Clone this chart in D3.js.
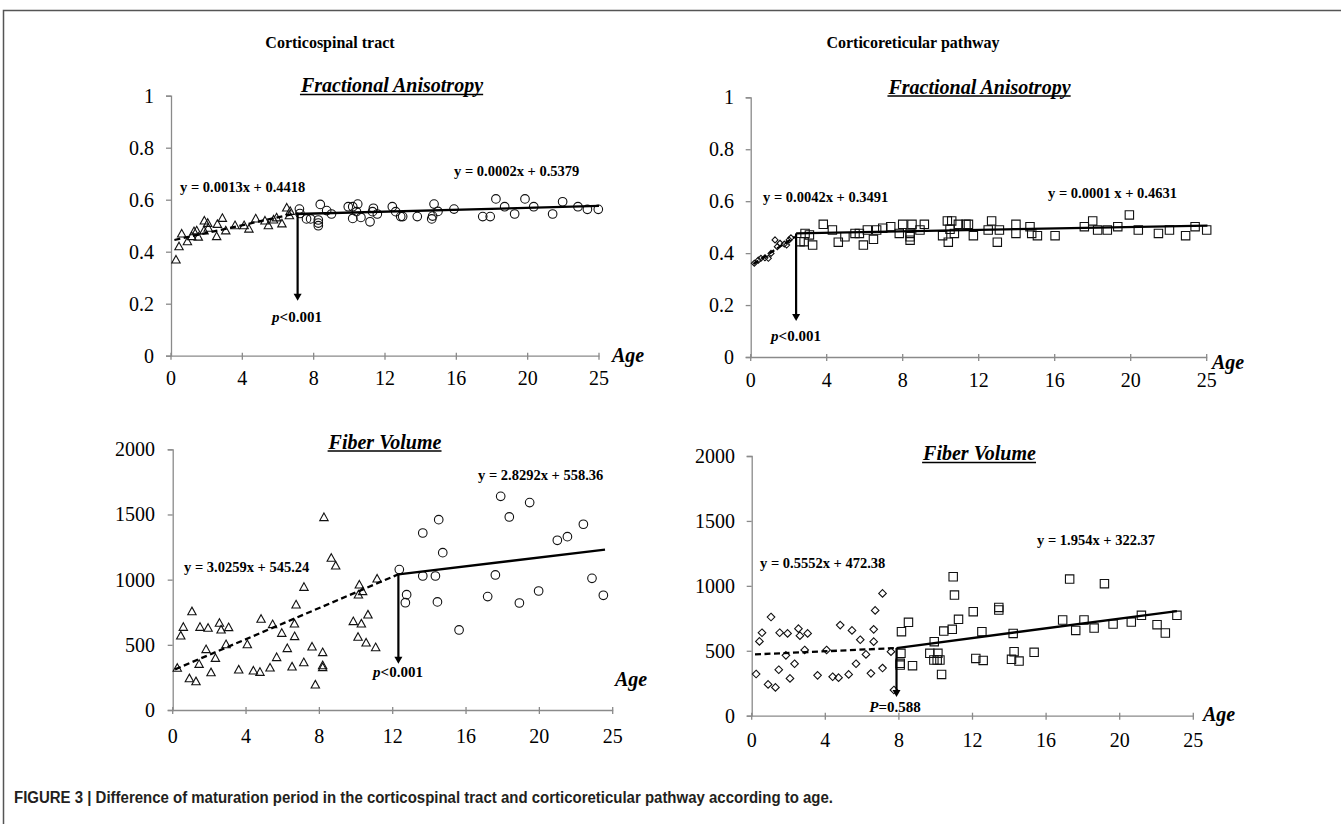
<!DOCTYPE html>
<html><head><meta charset="utf-8">
<script src="https://cdn.jsdelivr.net/npm/d3@7"></script>
<style>body{margin:0;background:#fff}</style>
</head><body><svg id="c" width="1341" height="824"></svg>
<script>
// ---------------- DATA ----------------
const xTickValues = [0, 4, 8, 12, 16, 20, 24];
const xTickLabels = ["0", "4", "8", "12", "16", "20", "25"];
const faTickValues = [0, 0.2, 0.4, 0.6, 0.8, 1];
const faTickLabels = ["0", "0.2", "0.4", "0.6", "0.8", "1"];
const fvTickValues = [0, 500, 1000, 1500, 2000];
const fvTickLabels = ["0", "500", "1000", "1500", "2000"];

const columnTitles = ["Corticospinal tract", "Corticoreticular pathway"];
const panelTitles = ["Fractional Anisotropy", "Fractional Anisotropy", "Fiber Volume", "Fiber Volume"];
const caption = "FIGURE 3 | Difference of maturation period in the corticospinal tract and corticoreticular pathway according to age.";

// Corticospinal tract – FA
const faCstYoung = [[0.28,0.368],[0.45,0.419],[0.6,0.468],[0.92,0.438],[1.16,0.458],[1.29,0.477],[1.44,0.48],[1.53,0.456],[1.87,0.518],[1.85,0.48],[2.06,0.509],[2.09,0.49],[2.56,0.458],[2.6,0.505],[2.88,0.528],[3.07,0.48],[3.59,0.5],[4.1,0.5],[4.37,0.487],[4.75,0.526],[5.27,0.518],[5.46,0.5],[5.75,0.522],[5.92,0.53],[6.22,0.507],[6.49,0.568],[6.68,0.555],[6.64,0.538]];
const faCstOld = [[7.2,0.564],[7.23,0.547],[7.6,0.526],[7.83,0.526],[8.26,0.522],[8.26,0.51],[8.26,0.5],[8.37,0.582],[8.73,0.558],[9.0,0.545],[9.94,0.573],[10.19,0.573],[10.47,0.583],[10.19,0.528],[10.4,0.554],[10.65,0.532],[11.16,0.515],[11.3,0.554],[11.35,0.567],[11.57,0.545],[12.41,0.573],[12.6,0.554],[12.88,0.535],[12.99,0.535],[13.81,0.535],[14.62,0.526],[14.67,0.537],[14.75,0.583],[14.97,0.555],[15.87,0.564],[17.48,0.535],[17.9,0.535],[18.22,0.603],[18.71,0.573],[19.27,0.545],[19.85,0.603],[20.34,0.573],[21.4,0.545],[21.96,0.592],[22.82,0.573],[23.35,0.563],[23.96,0.563]];
const faCstFitYoung = [[0.19,0.445],[6.86,0.545]];
const faCstFitOld = [[7.0,0.545],[24,0.576]];
const faCstArrow = [7.1, 0.545, 0.215];
const faCstEquations = ["y = 0.0013x + 0.4418", "y = 0.0002x + 0.5379"];
const faCstP = "<0.001";

// Corticoreticular pathway – FA
const faCrpYoung = [[0.19,0.361],[0.4,0.373],[0.54,0.38],[0.75,0.382],[0.93,0.38],[1.07,0.399],[1.28,0.451],[1.4,0.425],[1.54,0.438],[1.77,0.435],[1.89,0.431],[2.02,0.451],[2.12,0.459]];
const faCrpOld = [[2.6,0.444],[2.81,0.444],[2.86,0.476],[3.09,0.47],[3.26,0.431],[3.82,0.511],[4.3,0.489],[4.61,0.442],[4.96,0.463],[5.49,0.476],[5.72,0.476],[5.93,0.431],[6.14,0.489],[6.46,0.453],[6.63,0.489],[6.95,0.496],[7.37,0.502],[7.82,0.476],[8.0,0.511],[8.39,0.476],[8.39,0.463],[8.39,0.45],[8.49,0.511],[8.91,0.489],[9.14,0.511],[10.1,0.467],[10.35,0.524],[10.58,0.524],[10.4,0.442],[10.49,0.492],[10.72,0.476],[10.93,0.511],[11.33,0.511],[11.46,0.511],[11.72,0.467],[12.5,0.489],[12.68,0.524],[12.98,0.442],[13.09,0.489],[13.96,0.511],[13.96,0.476],[14.7,0.502],[14.79,0.476],[15.09,0.467],[16.02,0.467],[17.56,0.502],[18.0,0.524],[18.26,0.489],[18.77,0.489],[19.32,0.502],[19.93,0.547],[20.4,0.489],[21.46,0.476],[22.04,0.489],[22.89,0.467],[23.39,0.502],[24.0,0.489]];
const faCrpFitYoung = [[0.14,0.358],[2.33,0.463]];
const faCrpFitOld = [[2.39,0.476],[24.04,0.506]];
const faCrpArrow = [2.39, 0.476, 0.142];
const faCrpEquations = ["y = 0.0042x + 0.3491", "y = 0.0001 x + 0.4631"];
const faCrpP = "<0.001";

// Corticospinal tract – fiber volume
const fvCstYoung = [[0.25,320],[0.44,568],[0.58,634],[0.91,240],[1.05,754],[1.27,217],[1.44,350],[1.49,634],[1.82,463],[1.93,627],[2.09,286],[2.33,396],[2.55,665],[2.64,614],[2.91,501],[3.05,632],[3.6,307],[4.07,501],[4.4,299],[4.76,289],[4.82,696],[5.31,322],[5.45,655],[5.67,402],[5.95,588],[6.25,471],[6.51,330],[6.64,660],[6.65,563],[6.73,806],[7.15,363],[7.16,941],[7.6,483],[7.78,192],[8.18,440],[8.18,340],[8.18,325],[8.25,1476],[8.65,1164],[8.89,1105],[9.85,678],[10.11,558],[10.13,882],[10.18,959],[10.29,660],[10.36,908],[10.55,514],[10.65,729],[11.07,478],[11.15,1005]];
const fvCstOld = [[12.36,1077],[12.76,885],[12.69,823],[13.64,1358],[13.64,1028],[14.33,1028],[14.51,1460],[14.44,829],[14.73,1207],[15.62,614],[17.18,870],[17.6,1036],[17.89,1639],[18.36,1481],[18.91,821],[19.47,1591],[19.96,913],[20.98,1302],[21.53,1330],[22.4,1425],[22.87,1010],[23.49,880]];
const fvCstFitYoung = [[0.13,312],[12.31,1041]];
const fvCstFitOld = [[12.31,1041],[23.58,1230]];
const fvCstArrow = [12.31, 1041, 363];
const fvCstEquations = ["y = 3.0259x + 545.24", "y = 2.8292x + 558.36"];
const fvCstP = "<0.001";

// Corticoreticular pathway – fiber volume
const fvCrpYoung = [[0.24,321],[0.42,572],[0.56,639],[1.05,760],[0.89,241],[1.29,218],[1.47,354],[1.52,639],[1.86,465],[1.95,634],[2.08,287],[2.33,400],[2.54,670],[2.62,616],[2.88,506],[3.04,634],[3.58,311],[4.07,506],[4.4,300],[4.72,293],[4.81,698],[5.27,318],[5.45,657],[5.67,400],[5.9,585],[6.21,472],[6.48,326],[6.63,665],[6.63,570],[6.71,811],[7.11,367],[7.11,942],[7.57,493],[7.73,198]];
const fvCrpOld = [[8.11,480],[8.07,403],[8.07,390],[8.14,647],[8.52,719],[8.74,385],[9.68,480],[9.92,570],[9.9,429],[10.08,429],[10.12,480],[10.23,429],[10.32,318],[10.44,652],[10.9,665],[10.95,1070],[11.02,929],[11.24,742],[12.04,801],[12.18,441],[12.51,647],[12.58,426],[13.43,834],[13.43,814],[14.12,434],[14.21,634],[14.26,493],[14.53,421],[15.35,488],[16.9,737],[17.28,1052],[17.61,657],[18.06,737],[18.61,675],[19.17,1017],[19.64,706],[20.63,721],[21.18,773],[22.03,701],[22.48,637],[23.11,773]];
const fvCrpFitYoung = [[0.18,472],[7.87,521]];
const fvCrpFitOld = [[7.87,521],[23.11,806]];
const fvCrpArrow = [7.87, 521, 151];
const fvCrpEquations = ["y = 0.5552x + 472.38", "y = 1.954x + 322.37"];
const fvCrpP = "=0.588";

// ---------------- LAYOUT ----------------
const serif = "'Liberation Serif','Times New Roman',serif";
const svg = d3.select("#c");

// frame
svg.append("rect").attr("x", 3.5).attr("y", 10.5).attr("width", 1340).attr("height", 900)
  .attr("fill", "none").attr("stroke", "#555").attr("stroke-width", 1.5);

// column headings
[[330, columnTitles[0]], [913, columnTitles[1]]].forEach(([cx, t]) => {
  svg.append("text").attr("x", cx).attr("y", 48).attr("text-anchor", "middle")
    .attr("font-family", serif).attr("font-weight", "bold").attr("font-size", 16).text(t);
});

svg.append("text").attr("x", 14).attr("y", 803)
  .attr("font-family", "'Liberation Sans Narrow','Arial Narrow','Liberation Sans',sans-serif")
  .attr("font-weight", "bold").attr("font-size", 16)
  .attr("textLength", 819).attr("lengthAdjust", "spacingAndGlyphs")
  .attr("fill", "#231f20").text(caption);

const shapes = {
  triangle: "M0,-4.6L4.2,3L-4.2,3Z",
  diamondSmall: "M0,-3L3,0L0,3L-3,0Z",
  diamond: "M0,-3.8L3.8,0L0,3.8L-3.8,0Z",
  square: "M-4.2,-4.2H4.2V4.2H-4.2Z",
};

const panels = [
  { px: [171, 599], py: [355.7, 95.7], yMax: 1, yTicks: faTickValues, yLabels: faTickLabels,
    young: faCstYoung, old: faCstOld, youngShape: "triangle", oldShape: "circle",
    fitY: faCstFitYoung, fitO: faCstFitOld, arrow: faCstArrow, eq: faCstEquations, p: faCstP, pItalic: "p",
    title: panelTitles[0], titlePos: [392, 92], eqPos: [[180, 192], [454, 176]], pPos: [297, 322],
    yLabX: 154, xLabDy: 29, agePos: [612, 362] },
  { px: [750.7, 1206.7], py: [357, 97.3], yMax: 1, yTicks: faTickValues, yLabels: faTickLabels,
    young: faCrpYoung, old: faCrpOld, youngShape: "diamondSmall", oldShape: "square",
    fitY: faCrpFitYoung, fitO: faCrpFitOld, arrow: faCrpArrow, eq: faCrpEquations, p: faCrpP, pItalic: "p",
    title: panelTitles[1], titlePos: [979.5, 93.5], eqPos: [[763, 202], [1048, 197.5]], pPos: [796, 341],
    yLabX: 734, xLabDy: 30, agePos: [1212, 369] },
  { px: [172.7, 612.7], py: [710, 449.3], yMax: 2000, yTicks: fvTickValues, yLabels: fvTickLabels,
    young: fvCstYoung, old: fvCstOld, youngShape: "triangle", oldShape: "circle",
    fitY: fvCstFitYoung, fitO: fvCstFitOld, arrow: fvCstArrow, eq: fvCstEquations, p: fvCstP, pItalic: "p",
    title: panelTitles[2], titlePos: [385, 448.5], eqPos: [[184, 572], [478, 480]], pPos: [398, 677],
    yLabX: 155, xLabDy: 33, agePos: [615, 686] },
  { px: [751.7, 1193.3], py: [715.7, 456], yMax: 2000, yTicks: fvTickValues, yLabels: fvTickLabels,
    young: fvCrpYoung, old: fvCrpOld, youngShape: "diamond", oldShape: "square",
    fitY: fvCrpFitYoung, fitO: fvCrpFitOld, arrow: fvCrpArrow, eq: fvCrpEquations, p: fvCrpP, pItalic: "P",
    title: panelTitles[3], titlePos: [979.5, 460], eqPos: [[760, 568], [1037, 545]], pPos: [895, 712],
    yLabX: 735, xLabDy: 31, agePos: [1203, 721] },
];

panels.forEach(P => {
  const x = d3.scaleLinear().domain([0, 24]).range(P.px);
  const y = d3.scaleLinear().domain([0, P.yMax]).range(P.py);
  const g = svg.append("g");
  const axisColor = "#8a8a8a";

  // x axis (crossing ticks)
  const xa = g.append("g").attr("transform", `translate(0,${P.py[0]})`)
    .call(d3.axisBottom(x).tickValues(xTickValues).tickSize(0).tickFormat(""));
  xa.select(".domain").attr("stroke", axisColor).attr("stroke-width", 1.3);
  g.selectAll(null).data(xTickValues).enter().append("line")
    .attr("x1", d => x(d)).attr("x2", d => x(d))
    .attr("y1", P.py[0] - 3).attr("y2", P.py[0] + 4)
    .attr("stroke", axisColor).attr("stroke-width", 1.3);
  g.selectAll(null).data(xTickValues).enter().append("text")
    .attr("x", d => x(d)).attr("y", P.py[0] + P.xLabDy).attr("text-anchor", "middle")
    .attr("font-family", serif).attr("font-size", 20)
    .text((d, i) => xTickLabels[i]);

  // y axis
  const ya = g.append("g").attr("transform", `translate(${P.px[0]},0)`)
    .call(d3.axisLeft(y).tickValues(P.yTicks).tickSize(5).tickFormat(""));
  ya.select(".domain").attr("stroke", axisColor).attr("stroke-width", 1.3);
  ya.selectAll(".tick line").attr("stroke", axisColor).attr("stroke-width", 1.3);
  g.selectAll(null).data(P.yTicks).enter().append("text")
    .attr("x", P.yLabX).attr("y", d => y(d)).attr("dy", "0.35em").attr("text-anchor", "end")
    .attr("font-family", serif).attr("font-size", 20)
    .text((d, i) => P.yLabels[i]);

  // Age label
  g.append("text").attr("x", P.agePos[0]).attr("y", P.agePos[1])
    .attr("font-family", serif).attr("font-size", 20).attr("font-weight", "bold").attr("font-style", "italic")
    .text("Age");

  // title with underline
  const t = g.append("text").attr("x", P.titlePos[0]).attr("y", P.titlePos[1]).attr("text-anchor", "middle")
    .attr("font-family", serif).attr("font-size", 20).attr("font-weight", "bold").attr("font-style", "italic")
    .text(P.title);
  const bb = t.node().getBBox();
  g.append("line").attr("x1", bb.x).attr("x2", bb.x + bb.width)
    .attr("y1", P.titlePos[1] + 2.5).attr("y2", P.titlePos[1] + 2.5)
    .attr("stroke", "#000").attr("stroke-width", 1.3);

  // markers
  const drawPts = (data, shape) => {
    if (shape === "circle") {
      g.selectAll(null).data(data).enter().append("circle")
        .attr("cx", d => x(d[0])).attr("cy", d => y(d[1])).attr("r", 4.3)
        .attr("fill", "none").attr("stroke", "#111").attr("stroke-width", 1.1);
    } else {
      g.selectAll(null).data(data).enter().append("path")
        .attr("d", shapes[shape])
        .attr("transform", d => `translate(${x(d[0])},${y(d[1])})`)
        .attr("fill", "none").attr("stroke", "#111").attr("stroke-width", 1.1);
    }
  };
  drawPts(P.young, P.youngShape);
  drawPts(P.old, P.oldShape);

  // fitted lines
  const line = d3.line().x(d => x(d[0])).y(d => y(d[1]));
  g.append("path").attr("d", line(P.fitY)).attr("fill", "none").attr("stroke", "#000")
    .attr("stroke-width", 2.3).attr("stroke-dasharray", "6,3.5");
  g.append("path").attr("d", line(P.fitO)).attr("fill", "none").attr("stroke", "#000")
    .attr("stroke-width", 2.3);

  // arrow
  const ax = x(P.arrow[0]), ay1 = y(P.arrow[1]), ay2 = y(P.arrow[2]);
  g.append("line").attr("x1", ax).attr("x2", ax).attr("y1", ay1).attr("y2", ay2 - 5)
    .attr("stroke", "#000").attr("stroke-width", 2.2);
  g.append("path").attr("d", `M${ax - 4},${ay2 - 6}L${ax + 4},${ay2 - 6}L${ax},${ay2 + 1}Z`).attr("fill", "#000");

  // equations
  P.eq.forEach((e, i) => {
    g.append("text").attr("x", P.eqPos[i][0]).attr("y", P.eqPos[i][1])
      .attr("font-family", serif).attr("font-size", 14.5).attr("font-weight", "bold").text(e);
  });

  // p value
  const pt = g.append("text").attr("x", P.pPos[0]).attr("y", P.pPos[1]).attr("text-anchor", "middle")
    .attr("font-family", serif).attr("font-size", 15).attr("font-weight", "bold");
  pt.append("tspan").attr("font-style", "italic").text(P.pItalic);
  pt.append("tspan").text(P.p);
});
</script>
</body></html>
